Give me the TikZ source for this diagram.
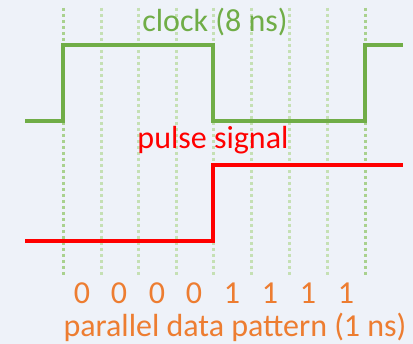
\documentclass[tikz,border=0pt]{standalone}
\usepackage{fontspec}
\setmainfont{Carlito}
\definecolor{bgblue}{HTML}{EEF2F9}
\definecolor{clkgreen}{HTML}{70AD47}
\definecolor{gridgreen}{HTML}{C5E0B4}
\definecolor{gridgreendark}{HTML}{A9D18E}
\definecolor{dataorange}{HTML}{ED7D31}
\tikzset{
  tick/.style={gridgreen, line width=3pt, dash pattern=on 3pt off 3pt},
  tickdark/.style={gridgreendark, line width=3pt, dash pattern=on 3pt off 3pt},
  bigtext/.style={font=\fontsize{32}{36}\selectfont, inner sep=0pt},
}
\begin{document}
\begin{tikzpicture}[x=1pt, y=1pt]
  \fill[bgblue] (0, 0) rectangle (413, -344);
  \useasboundingbox (0, 0) rectangle (413, -344);
  \draw[tickdark] (63, -8) -- (63, -277);
  \draw[tick] (101, -8) -- (101, -277);
  \draw[tick] (138, -8) -- (138, -277);
  \draw[tick] (176, -8) -- (176, -277);
  \draw[tick] (213, -8) -- (213, -277);
  \draw[tick] (251, -8) -- (251, -277);
  \draw[tick] (289, -8) -- (289, -277);
  \draw[tick] (327, -8) -- (327, -277);
  \draw[tickdark] (365, -8) -- (365, -277);
  \draw[clkgreen, line width=3.2pt] (25, -121) -- (63, -121) -- (63, -45) -- (213, -45)
    -- (213, -121) -- (365, -121) -- (365, -45) -- (403, -45);
  \draw[red, line width=4pt] (25, -241) -- (213, -241) -- (213, -165) -- (403, -165);
  \node[bigtext, text=clkgreen, anchor=base] (clk) at (215, -32) {clock (8 ns)};
  \node[bigtext, text=red, anchor=base] (pulse) at (213, -149) {pulse signal};
  \node[bigtext, text=dataorange, anchor=base] (b0) at (82, -304) {0};
  \node[bigtext, text=dataorange, anchor=base] (b1) at (119, -304) {0};
  \node[bigtext, text=dataorange, anchor=base] (b2) at (157, -304) {0};
  \node[bigtext, text=dataorange, anchor=base] (b3) at (194, -304) {0};
  \node[bigtext, text=dataorange, anchor=base] (b4) at (232, -304) {1};
  \node[bigtext, text=dataorange, anchor=base] (b5) at (270, -304) {1};
  \node[bigtext, text=dataorange, anchor=base] (b6) at (308, -304) {1};
  \node[bigtext, text=dataorange, anchor=base] (b7) at (346, -304) {1};
  \node[bigtext, text=dataorange, anchor=base] (pat) at (235, -337) {parallel data pattern (1 ns)};
\end{tikzpicture}
\end{document}
